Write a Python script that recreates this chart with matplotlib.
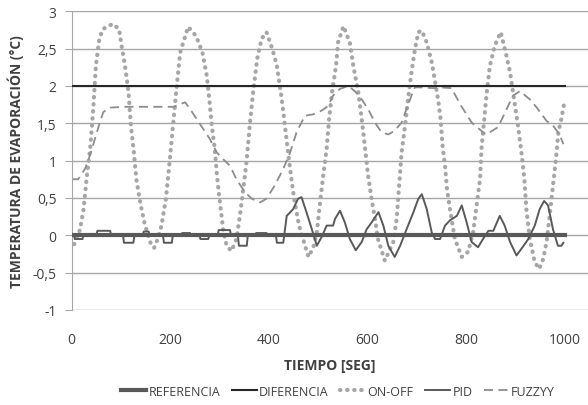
import matplotlib.pyplot as plt
from matplotlib.ticker import FuncFormatter

# tiempo [seg] / temperatura [°C]
t_ref = [0, 1000]
ref = [0, 0]

t_dif = [0, 1000]
dif = [2, 2]

t_onoff = [5, 17, 24, 30, 38, 44, 49, 56, 63, 83, 96, 101, 108, 115, 120, 126, 131, 140, 147, 153,
           159, 167, 175, 182, 191, 199, 206, 213, 220, 236, 252, 265, 274, 279, 284, 290, 294, 298,
           303, 307, 314, 324, 334, 341, 348, 355, 361, 368, 376, 385, 395, 407, 416, 426, 434, 442,
           451, 461, 471, 480, 490, 497, 503, 510, 517, 522, 528, 536, 540, 551, 564, 571, 581, 588,
           595, 601, 608, 615, 621, 635, 652, 659, 664, 669, 676, 682, 689, 696, 703, 710, 720, 730,
           736, 743, 748, 752, 757, 761, 768, 777, 791, 804, 814, 821, 828, 831, 836, 841, 848, 858,
           870, 880, 889, 897, 905, 912, 918, 922, 929, 939, 948, 956, 963, 970, 976, 982, 987, 993, 999]
onoff = [-0.12, 0.08, 0.35, 0.75, 1.2, 1.73, 2.27, 2.63, 2.76, 2.83, 2.76, 2.54, 2.27, 1.92, 1.47, 1.11, 0.75, 0.4, 0.18, 0.04,
         -0.09, -0.17, -0.04, 0.13, 0.49, 1.02, 1.51, 2.0, 2.45, 2.79, 2.67, 2.45, 2.13, 1.82, 1.47, 1.16, 0.84, 0.58,
         0.31, 0.08, -0.14, -0.21, -0.05, 0.26, 0.62, 1.02, 1.47, 1.92, 2.36, 2.63, 2.72, 2.49, 2.27, 1.82, 1.38, 0.93,
         0.49, 0.13, -0.09, -0.29, -0.16, 0.04, 0.4, 0.8, 1.16, 1.56, 1.92, 2.27, 2.58, 2.8, 2.58, 2.27, 1.92, 1.56,
         1.16, 0.8, 0.49, 0.22, -0.05, -0.34, -0.09, 0.22, 0.67, 1.11, 1.47, 1.82, 2.18, 2.49, 2.72, 2.74, 2.58, 2.32,
         2.09, 1.82, 1.56, 1.2, 0.93, 0.62, 0.31, -0.05, -0.29, -0.22, 0.04, 0.4, 0.75, 1.16, 1.51, 1.87, 2.27, 2.54,
         2.72, 2.45, 2.18, 1.82, 1.47, 1.11, 0.75, 0.35, -0.05, -0.36, -0.45, -0.32, -0.09, 0.31, 0.67, 1.02, 1.38, 1.56, 1.78]

t_pid = [0, 5, 6, 22, 23, 50, 52, 78, 80, 104, 106, 125, 127, 144, 146, 156, 158, 185, 187, 203, 205,
         222, 224, 240, 242, 259, 261, 277, 279, 296, 298, 321, 323, 337, 339, 355, 357, 372, 374, 395, 397,
         414, 416, 429, 436, 449, 459, 466, 476, 487, 497, 507, 517, 530, 534, 544, 554, 564, 576, 588, 598,
         608, 622, 632, 642, 655, 666, 679, 693, 703, 710, 720, 730, 737, 747, 757, 767, 781, 791, 801, 811,
         824, 834, 845, 855, 868, 878, 889, 902, 912, 926, 939, 949, 958, 966, 976, 986, 993, 997]
pid = [0, 0, -0.05, -0.05, 0, 0, 0.06, 0.06, 0, 0, -0.1, -0.1, 0, 0, 0.05, 0.05, 0, 0, -0.1, -0.1, 0,
       0, 0.03, 0.03, 0, 0, -0.05, -0.05, 0, 0, 0.07, 0.07, 0, 0, -0.14, -0.14, 0, 0, 0.03, 0.03, 0,
       0, -0.1, -0.1, 0.26, 0.35, 0.49, 0.51, 0.31, 0.08, -0.14, -0.02, 0.13, 0.13, 0.22, 0.33, 0.17, -0.05, -0.2, -0.09, 0.08,
       0.17, 0.31, 0.13, -0.14, -0.29, -0.14, 0.08, 0.31, 0.49, 0.55, 0.35, 0.04, -0.05, -0.05, 0.13, 0.2, 0.26, 0.4, 0.17, -0.09,
       -0.16, -0.05, 0.06, 0.06, 0.26, 0.13, -0.09, -0.27, -0.18, -0.05, 0.13, 0.35, 0.46, 0.4, 0.08, -0.14, -0.14, -0.1]

t_fuzzy = [0, 13, 27, 37, 47, 57, 64, 78, 111, 206, 230, 240, 253, 267, 280, 294, 307, 321, 334, 351, 365,
           382, 395, 412, 429, 443, 456, 473, 490, 507, 520, 530, 544, 561, 574, 588, 601, 615, 628, 642, 655,
           669, 679, 689, 696, 706, 733, 747, 770, 790, 811, 834, 841, 865, 882, 895, 909, 929, 943, 963, 976, 990, 997]
fuzzy = [0.75, 0.75, 0.89, 1.07, 1.29, 1.51, 1.65, 1.71, 1.72, 1.72, 1.78, 1.69, 1.56, 1.42, 1.29, 1.11, 1.02, 0.93, 0.75, 0.58, 0.49,
         0.44, 0.49, 0.67, 0.89, 1.11, 1.38, 1.6, 1.62, 1.67, 1.73, 1.87, 1.96, 2.0, 1.93, 1.82, 1.69, 1.51, 1.38, 1.35, 1.4,
         1.51, 1.69, 1.87, 1.98, 1.98, 1.97, 1.98, 1.97, 1.73, 1.51, 1.38, 1.35, 1.45, 1.69, 1.87, 1.93, 1.82, 1.71, 1.53, 1.47, 1.34, 1.22]

plt.rcParams['font.family'] = ['Open Sans', 'DejaVu Sans']
txt = '#404040'

fig = plt.figure(figsize=(5.88, 4.06), dpi=100)
ax = fig.add_axes([0.122, 0.234, 0.878, 0.736])

ax.plot(t_ref, ref, color='#595959', lw=3, label='REFERENCIA', zorder=3)
ax.plot(t_dif, dif, color='#262626', lw=1.5, label='DIFERENCIA', zorder=3)
ax.plot(t_onoff, onoff, color='#a6a6a6', lw=3, linestyle=(0, (0.1, 1.6)),
        dash_capstyle='round', label='ON-OFF', zorder=2)
ax.plot(t_pid, pid, color='#595959', lw=1.4, label='PID', zorder=4)
ax.plot(t_fuzzy, fuzzy, color='#8c8c8c', lw=1.3, linestyle=(0, (5, 3)), label='FUZZYY', zorder=2)

ax.set_xlim(0, 1047)
ax.set_ylim(-1, 3)
ax.set_xticks(range(0, 1001, 200))
ax.set_yticks([-1, -0.5, 0, 0.5, 1, 1.5, 2, 2.5, 3])
ax.yaxis.set_major_formatter(FuncFormatter(lambda v, p: ('%g' % v).replace('.', ',')))
ax.grid(axis='y', color='#a6a6a6', lw=1)
ax.set_axisbelow(True)
for s in ['top', 'right', 'bottom']:
    ax.spines[s].set_visible(False)
ax.spines['left'].set_color('#a6a6a6')
ax.tick_params(axis='x', length=0, pad=16, labelsize=10, labelcolor=txt)
ax.tick_params(axis='y', length=5, color='#a6a6a6', pad=6, labelsize=10, labelcolor=txt)

ax.set_xlabel('TIEMPO [SEG]', fontsize=10, fontweight='bold', color=txt, labelpad=8)
ax.set_ylabel('TEMPERATURA DE EVAPORACIÓN (°C)', fontsize=10, fontweight='bold', color=txt, labelpad=6)

h, l = ax.get_legend_handles_labels()
leg = fig.legend(h, l, loc='center', bbox_to_anchor=(0.575, 0.034), ncol=5, frameon=False,
                 fontsize=9, handlelength=2.0, columnspacing=0.9, handletextpad=0.2,
                 borderpad=0, borderaxespad=0)
for tx in leg.get_texts():
    tx.set_color(txt)

fig.savefig('out.png', dpi=100)
